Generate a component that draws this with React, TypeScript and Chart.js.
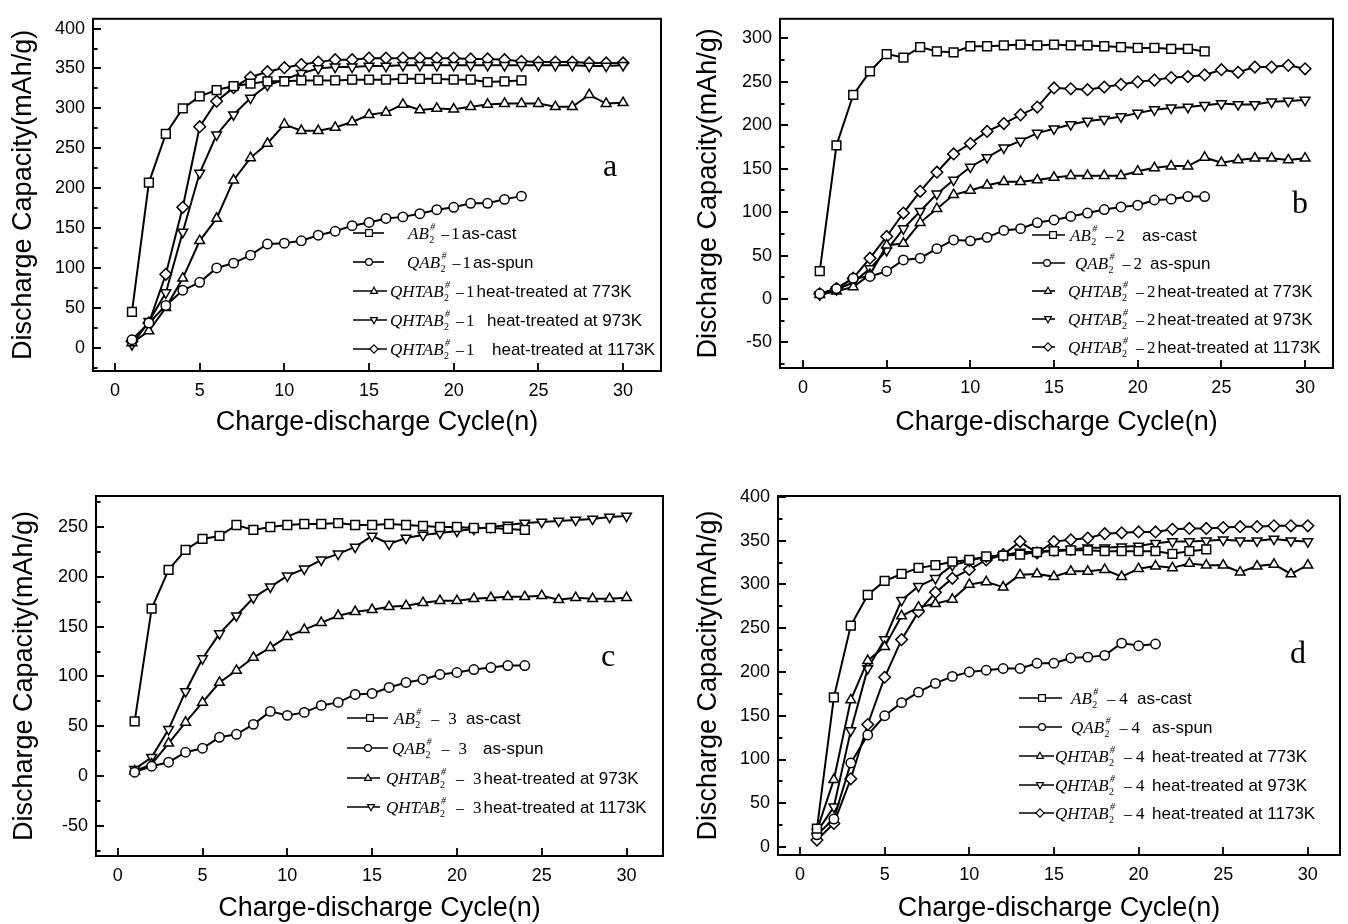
import React, { useEffect, useRef } from 'react';
import { Chart, registerables } from 'chart.js';
Chart.register(...registerables);

// ---------- data ----------
const CYCLES = [1, 2, 3, 4, 5, 6, 7, 8, 9, 10, 11, 12, 13, 14, 15, 16, 17, 18, 19, 20, 21, 22, 23, 24, 25, 26, 27, 28, 29, 30];

const X_TICKS = [0, 5, 10, 15, 20, 25, 30];
const Y_TICKS_A = [0, 50, 100, 150, 200, 250, 300, 350, 400];
const Y_TICKS_B = [-50, 0, 50, 100, 150, 200, 250, 300];
const Y_TICKS_C = [-50, 0, 50, 100, 150, 200, 250];
const Y_TICKS_D = [0, 50, 100, 150, 200, 250, 300, 350, 400];

// panel a
const A1_ASCAST = [45, 207, 268, 300, 315, 323, 328, 331, 334, 334, 335, 335, 335, 336, 336, 336, 337, 337, 337, 336, 336, 333, 334, 335];
const A1_ASSPUN = [10, 31, 53, 72, 82, 100, 106, 116, 130, 131, 134, 141, 146, 153, 157, 162, 164, 168, 173, 176, 181, 181, 186, 190];
const A1_773 = [6, 21, 50, 87, 134, 162, 210, 238, 256, 280, 272, 272, 276, 283, 292, 295, 305, 298, 300, 299, 302, 305, 306, 306, 306, 302, 302, 317, 306, 307];
const A1_973 = [4, 33, 69, 145, 219, 267, 292, 313, 329, 336, 344, 350, 352, 352, 353, 353, 354, 354, 354, 354, 354, 354, 354, 354, 354, 354, 354, 353, 353, 354];
const A1_1173 = [8, 31, 92, 176, 277, 309, 326, 339, 346, 351, 355, 358, 361, 361, 363, 363, 363, 363, 363, 363, 362, 362, 361, 359, 358, 358, 358, 357, 357, 357];

// panel b
const B2_ASCAST = [32, 177, 235, 262, 282, 278, 290, 285, 284, 291, 291, 292, 293, 292, 293, 292, 292, 291, 290, 289, 289, 288, 288, 285];
const B2_ASSPUN = [6, 12, 24, 26, 32, 45, 47, 58, 68, 67, 71, 79, 81, 88, 91, 95, 99, 103, 106, 108, 114, 115, 118, 118];
const B2_773 = [5, 9, 14, 28, 62, 64, 88, 104, 120, 125, 131, 135, 135, 137, 140, 142, 142, 142, 142, 147, 151, 153, 153, 163, 157, 160, 162, 162, 160, 162];
const B2_973 = [5, 11, 19, 35, 56, 81, 101, 121, 137, 152, 163, 174, 182, 191, 196, 201, 205, 207, 210, 214, 218, 220, 221, 223, 225, 224, 224, 227, 228, 229];
const B2_1173 = [6, 12, 24, 47, 72, 99, 124, 146, 167, 179, 193, 202, 212, 221, 243, 242, 241, 244, 247, 250, 252, 255, 256, 258, 264, 261, 267, 267, 269, 265];

// panel c
const C3_ASCAST = [55, 168, 207, 227, 238, 241, 252, 247, 250, 252, 253, 253, 254, 252, 252, 253, 252, 251, 250, 250, 249, 249, 248, 247];
const C3_ASSPUN = [4, 10, 14, 24, 28, 39, 42, 52, 65, 61, 64, 71, 74, 82, 83, 89, 94, 97, 102, 104, 107, 109, 111, 111];
const C3_973 = [5, 12, 33, 54, 74, 94, 106, 119, 129, 140, 147, 154, 161, 165, 167, 170, 171, 174, 176, 176, 178, 179, 180, 180, 181, 177, 179, 178, 178, 179];
const C3_1173 = [7, 19, 47, 85, 118, 143, 161, 179, 190, 201, 208, 217, 223, 230, 241, 233, 239, 242, 244, 246, 248, 250, 252, 254, 255, 256, 257, 258, 260, 261];

// panel d
const D4_ASCAST = [21, 171, 253, 288, 304, 312, 319, 322, 326, 328, 332, 333, 334, 337, 338, 339, 339, 338, 338, 338, 338, 335, 338, 340];
const D4_ASSPUN = [14, 32, 96, 128, 150, 165, 177, 187, 195, 200, 202, 204, 204, 210, 210, 216, 217, 219, 233, 230, 232];
const D4_773 = [19, 77, 168, 213, 229, 264, 274, 278, 283, 300, 303, 297, 311, 312, 309, 315, 315, 317, 309, 318, 321, 319, 324, 322, 322, 314, 321, 323, 312, 322];
const D4_973 = [17, 46, 133, 204, 237, 282, 298, 307, 322, 327, 332, 333, 337, 337, 339, 340, 342, 342, 343, 344, 347, 349, 349, 350, 351, 350, 350, 352, 350, 349];
const D4_1173 = [8, 27, 78, 140, 194, 237, 269, 291, 307, 317, 328, 334, 349, 336, 349, 351, 353, 358, 359, 360, 360, 363, 364, 364, 365, 366, 366, 367, 367, 367];

const X_TITLE = 'Charge-discharge Cycle(n)';
const Y_TITLE = 'Discharge Capacity(mAh/g)';

const SANS = '"Liberation Sans", Arial, Helvetica, sans-serif';
const SERIF = '"Liberation Serif", "Times New Roman", Times, serif';

type Marker = 'square' | 'circle' | 'up' | 'down' | 'diamond';

const POINT: Record<Marker, { style: string; rot: number; r: number }> = {
  square: { style: 'rect', rot: 0, r: 6.2 },
  circle: { style: 'circle', rot: 0, r: 4.7 },
  up: { style: 'triangle', rot: 0, r: 5.6 },
  down: { style: 'triangle', rot: 180, r: 5.6 },
  diamond: { style: 'rectRot', rot: 0, r: 5.8 },
};

interface Series { values: number[]; marker: Marker; prefix: string; num: string; suffix: string }
interface Row { y: number; lineEnd: number; markerX: number; labelX: number; suffixX: number }
interface Panel {
  left: number; top: number; w: number; h: number;
  area: { l: number; t: number; r: number; b: number };
  xMin: number; xMax: number; yMin: number; yMax: number;
  yTicks: number[];
  xTitlePad: number; yTitlePad: number;
  letter: string; letterPos: [number, number];
  legendX0: number; dashOff: number; numGap: number; rows: Row[];
  series: Series[];
}

const PANELS: Panel[] = [
  {
    left: 0, top: 0, w: 674, h: 455,
    area: { l: 93, t: 12, r: 661, b: 371 },
    xMin: -1.3, xMax: 32.24, yMin: -29.2, yMax: 412.3,
    yTicks: Y_TICKS_A,
    xTitlePad: 19, yTitlePad: 10,
    letter: 'a', letterPos: [610, 168],
    legendX0: 353, dashOff: 12, numGap: 2,
    rows: [
      { y: 233, lineEnd: 384, markerX: 369, labelX: 408, suffixX: 458 },
      { y: 262, lineEnd: 384, markerX: 369, labelX: 407, suffixX: 463 },
      { y: 291, lineEnd: 387, markerX: 374, labelX: 390, suffixX: 472 },
      { y: 320, lineEnd: 387, markerX: 374, labelX: 390, suffixX: 487 },
      { y: 349, lineEnd: 387, markerX: 374, labelX: 390, suffixX: 492 },
    ],
    series: [
      { values: A1_ASCAST, marker: 'square', prefix: 'AB', num: '1', suffix: 'as-cast' },
      { values: A1_ASSPUN, marker: 'circle', prefix: 'QAB', num: '1', suffix: 'as-spun' },
      { values: A1_773, marker: 'up', prefix: 'QHTAB', num: '1', suffix: 'heat-treated at 773K' },
      { values: A1_973, marker: 'down', prefix: 'QHTAB', num: '1', suffix: 'heat-treated at 973K' },
      { values: A1_1173, marker: 'diamond', prefix: 'QHTAB', num: '1', suffix: 'heat-treated at 1173K' },
    ],
  },
  {
    left: 674, top: 0, w: 674, h: 455,
    area: { l: 106, t: 13, r: 659, b: 368 },
    xMin: -1.375, xMax: 31.67, yMin: -79.4, yMax: 322.6,
    yTicks: Y_TICKS_B,
    xTitlePad: 19, yTitlePad: 21,
    letter: 'b', letterPos: [626, 205],
    legendX0: 358, dashOff: 14, numGap: 3,
    rows: [
      { y: 235, lineEnd: 391, markerX: 379, labelX: 396, suffixX: 468 },
      { y: 263, lineEnd: 391, markerX: 373, labelX: 401, suffixX: 476 },
      { y: 291, lineEnd: 381, markerX: 374, labelX: 394, suffixX: 478 },
      { y: 319, lineEnd: 381, markerX: 374, labelX: 394, suffixX: 479 },
      { y: 347, lineEnd: 381, markerX: 374, labelX: 394, suffixX: 478 },
    ],
    series: [
      { values: B2_ASCAST, marker: 'square', prefix: 'AB', num: '2', suffix: 'as-cast' },
      { values: B2_ASSPUN, marker: 'circle', prefix: 'QAB', num: '2', suffix: 'as-spun' },
      { values: B2_773, marker: 'up', prefix: 'QHTAB', num: '2', suffix: 'heat-treated at 773K' },
      { values: B2_973, marker: 'down', prefix: 'QHTAB', num: '2', suffix: 'heat-treated at 973K' },
      { values: B2_1173, marker: 'diamond', prefix: 'QHTAB', num: '2', suffix: 'heat-treated at 1173K' },
    ],
  },
  {
    left: 0, top: 455, w: 674, h: 469,
    area: { l: 96, t: 41, r: 663, b: 401 },
    xMin: -1.28, xMax: 32.15, yMin: -80.1, yMax: 281.1,
    yTicks: Y_TICKS_C,
    xTitlePad: 2, yTitlePad: 11,
    letter: 'c', letterPos: [608, 203],
    legendX0: 347, dashOff: 16, numGap: 9,
    rows: [
      { y: 263, lineEnd: 388, markerX: 370, labelX: 394, suffixX: 466 },
      { y: 293, lineEnd: 388, markerX: 368, labelX: 392, suffixX: 483 },
      { y: 323, lineEnd: 380, markerX: 368, labelX: 386, suffixX: 481 },
      { y: 352, lineEnd: 380, markerX: 371, labelX: 386, suffixX: 481 },
    ],
    series: [
      { values: C3_ASCAST, marker: 'square', prefix: 'AB', num: '3', suffix: 'as-cast' },
      { values: C3_ASSPUN, marker: 'circle', prefix: 'QAB', num: '3', suffix: 'as-spun' },
      { values: C3_973, marker: 'up', prefix: 'QHTAB', num: '3', suffix: 'heat-treated at 973K' },
      { values: C3_1173, marker: 'down', prefix: 'QHTAB', num: '3', suffix: 'heat-treated at 1173K' },
    ],
  },
  {
    left: 674, top: 455, w: 674, h: 469,
    area: { l: 104, t: 41, r: 666, b: 400 },
    xMin: -1.3, xMax: 31.9, yMin: -9.1, yMax: 401.1,
    yTicks: Y_TICKS_D,
    xTitlePad: 2, yTitlePad: 21,
    letter: 'd', letterPos: [624, 200],
    legendX0: 345, dashOff: 15, numGap: 4,
    rows: [
      { y: 243, lineEnd: 388, markerX: 368, labelX: 397, suffixX: 463 },
      { y: 272, lineEnd: 388, markerX: 368, labelX: 397, suffixX: 478 },
      { y: 301, lineEnd: 380, markerX: 366, labelX: 381, suffixX: 478 },
      { y: 330, lineEnd: 380, markerX: 366, labelX: 381, suffixX: 478 },
      { y: 358, lineEnd: 380, markerX: 366, labelX: 381, suffixX: 478 },
    ],
    series: [
      { values: D4_ASCAST, marker: 'square', prefix: 'AB', num: '4', suffix: 'as-cast' },
      { values: D4_ASSPUN, marker: 'circle', prefix: 'QAB', num: '4', suffix: 'as-spun' },
      { values: D4_773, marker: 'up', prefix: 'QHTAB', num: '4', suffix: 'heat-treated at 773K' },
      { values: D4_973, marker: 'down', prefix: 'QHTAB', num: '4', suffix: 'heat-treated at 973K' },
      { values: D4_1173, marker: 'diamond', prefix: 'QHTAB', num: '4', suffix: 'heat-treated at 1173K' },
    ],
  },
];

function drawMarker(ctx: CanvasRenderingContext2D, m: Marker, x: number, y: number, r: number) {
  ctx.beginPath();
  if (m === 'square') {
    ctx.rect(x - r, y - r, 2 * r, 2 * r);
  } else if (m === 'circle') {
    ctx.arc(x, y, r, 0, Math.PI * 2);
  } else if (m === 'up') {
    ctx.moveTo(x, y - r * 1.1);
    ctx.lineTo(x + r, y + r * 0.7);
    ctx.lineTo(x - r, y + r * 0.7);
    ctx.closePath();
  } else if (m === 'down') {
    ctx.moveTo(x, y + r * 1.1);
    ctx.lineTo(x + r, y - r * 0.7);
    ctx.lineTo(x - r, y - r * 0.7);
    ctx.closePath();
  } else {
    ctx.moveTo(x, y - r * 1.2);
    ctx.lineTo(x + r * 1.2, y);
    ctx.lineTo(x, y + r * 1.2);
    ctx.lineTo(x - r * 1.2, y);
    ctx.closePath();
  }
  ctx.fillStyle = '#fff';
  ctx.fill();
  ctx.stroke();
}

function makeFramePlugin(p: Panel) {
  return {
    id: 'frame',
    afterDraw(chart: any) {
      const { ctx, chartArea: ca, scales } = chart;
      const xs = scales.x;
      const ys = scales.y;
      ctx.save();
      ctx.strokeStyle = '#000';
      ctx.lineWidth = 2;
      ctx.strokeRect(ca.left, ca.top, ca.right - ca.left, ca.bottom - ca.top);

      ctx.lineWidth = 1.8;
      ctx.beginPath();
      xs.ticks.forEach((t: any) => {
        const px = Math.round(xs.getPixelForValue(t.value));
        ctx.moveTo(px, ca.bottom);
        ctx.lineTo(px, ca.bottom - 8);
      });
      const step = 50;
      ys.ticks.forEach((t: any, i: number) => {
        const py = Math.round(ys.getPixelForValue(t.value));
        ctx.moveTo(ca.left, py);
        ctx.lineTo(ca.left + 8, py);
        const minors = [t.value + step / 2];
        if (i === 0) minors.push(t.value - step / 2);
        minors.forEach((mv) => {
          if (mv > p.yMin && mv < p.yMax) {
            const pm = Math.round(ys.getPixelForValue(mv));
            ctx.moveTo(ca.left, pm);
            ctx.lineTo(ca.left + 4.5, pm);
          }
        });
      });
      ctx.stroke();

      // panel letter
      ctx.fillStyle = '#000';
      ctx.font = `32px ${SERIF}`;
      ctx.textAlign = 'center';
      ctx.textBaseline = 'middle';
      ctx.fillText(p.letter, p.letterPos[0], p.letterPos[1]);

      // legend
      ctx.textAlign = 'left';
      ctx.textBaseline = 'alphabetic';
      p.series.forEach((s, i) => {
        const row = p.rows[i];
        if (!row) return;
        ctx.lineWidth = 1.6;
        ctx.strokeStyle = '#000';
        ctx.beginPath();
        ctx.moveTo(p.legendX0, row.y);
        ctx.lineTo(row.lineEnd, row.y);
        ctx.stroke();
        ctx.lineWidth = 1.2;
        drawMarker(ctx, s.marker, row.markerX, row.y, 3.4);

        const base = row.y + 6;
        ctx.fillStyle = '#000';
        ctx.font = `italic 17px ${SERIF}`;
        ctx.fillText(s.prefix, row.labelX, base);
        let cx = row.labelX + ctx.measureText(s.prefix).width + 0.5;
        ctx.font = `10px ${SERIF}`;
        ctx.fillText('2', cx, base + 4);
        ctx.font = `italic 10px ${SERIF}`;
        ctx.fillText('#', cx + 1, base - 9);
        cx += p.dashOff;
        ctx.font = `16px ${SERIF}`;
        ctx.fillText('\u2013', cx, base);
        cx += ctx.measureText('\u2013').width + p.numGap;
        ctx.font = `17px ${SERIF}`;
        ctx.fillText(s.num, cx, base);
        cx += ctx.measureText(s.num).width;
        ctx.font = `17px ${SANS}`;
        ctx.fillText(s.suffix, Math.max(row.suffixX, cx + 2), base);
      });
      ctx.restore();
    },
  };
}

function PanelChart({ p }: { p: Panel }) {
  const ref = useRef<HTMLCanvasElement | null>(null);
  useEffect(() => {
    if (!ref.current) return;
    const datasets = p.series.map((s) => {
      const ps = POINT[s.marker];
      return {
        data: s.values.map((v, i) => ({ x: CYCLES[i], y: v })),
        borderColor: '#000',
        borderWidth: 2,
        pointStyle: ps.style,
        pointRotation: ps.rot,
        pointRadius: ps.r,
        pointBackgroundColor: '#fff',
        pointBorderColor: '#000',
        pointBorderWidth: 1.5,
        tension: 0,
        fill: false,
      };
    });
    const xHeight = p.h - p.area.b;
    const chart = new Chart(ref.current, {
      type: 'line',
      data: { datasets } as any,
      options: {
        animation: false,
        responsive: false,
        maintainAspectRatio: false,
        devicePixelRatio: 1,
        layout: { padding: { top: p.area.t, right: p.w - p.area.r, left: 0, bottom: 0 } },
        plugins: { legend: { display: false }, tooltip: { enabled: false } },
        scales: {
          x: {
            type: 'linear',
            min: p.xMin,
            max: p.xMax,
            grid: { display: false, drawTicks: false },
            border: { display: false },
            ticks: {
              padding: 9,
              color: '#000',
              maxRotation: 0,
              autoSkip: false,
              font: { family: SANS, size: 18 },
            },
            afterBuildTicks: (s: any) => { s.ticks = X_TICKS.map((v) => ({ value: v })); },
            title: {
              display: true,
              text: X_TITLE,
              color: '#000',
              font: { family: SANS, size: 27, lineHeight: 1 },
              padding: { top: 0, bottom: p.xTitlePad },
            },
            afterFit: (s: any) => { s.height = xHeight; },
          },
          y: {
            type: 'linear',
            min: p.yMin,
            max: p.yMax,
            grid: { display: false, drawTicks: false },
            border: { display: false },
            ticks: {
              padding: 8,
              color: '#000',
              autoSkip: false,
              font: { family: SANS, size: 18 },
            },
            afterBuildTicks: (s: any) => { s.ticks = p.yTicks.map((v) => ({ value: v })); },
            title: {
              display: true,
              text: Y_TITLE,
              color: '#000',
              font: { family: SANS, size: 27, lineHeight: 1 },
              padding: { top: p.yTitlePad, bottom: 0 },
            },
            afterFit: (s: any) => { s.width = p.area.l; },
          },
        },
      } as any,
      plugins: [makeFramePlugin(p)],
    });
    return () => chart.destroy();
  }, [p]);
  return (
    <canvas
      ref={ref}
      width={p.w}
      height={p.h}
      style={{ position: 'absolute', left: p.left, top: p.top, width: p.w, height: p.h }}
    />
  );
}

export default function App() {
  return (
    <div style={{ position: 'absolute', left: 0, top: 0, width: 1348, height: 924, background: '#fff' }}>
      {PANELS.map((p, i) => (
        <PanelChart key={i} p={p} />
      ))}
    </div>
  );
}
